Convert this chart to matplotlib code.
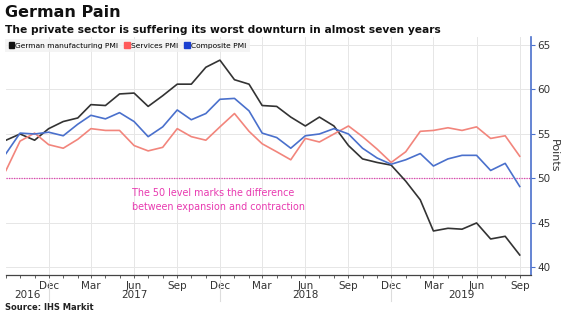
import pandas as pd
import matplotlib.pyplot as plt
import matplotlib.dates as mdates
from matplotlib.patches import Patch
import matplotlib.transforms as mtransforms

# German PMI readings, monthly Sep 2016 - Sep 2019
months = pd.date_range("2016-09-01", "2019-09-01", freq="MS")

manufacturing = [54.3, 55.0, 54.3, 55.6,
                 56.4, 56.8, 58.3, 58.2, 59.5, 59.6, 58.1, 59.3, 60.6, 60.6, 62.5, 63.3,
                 61.1, 60.6, 58.2, 58.1, 56.9, 55.9, 56.9, 55.9, 53.7, 52.2, 51.8, 51.5,
                 49.7, 47.6, 44.1, 44.4, 44.3, 45.0, 43.2, 43.5, 41.4]
services = [50.9, 54.2, 55.1, 53.8,
            53.4, 54.4, 55.6, 55.4, 55.4, 53.7, 53.1, 53.5, 55.6, 54.7, 54.3, 55.8,
            57.3, 55.3, 53.9, 53.0, 52.1, 54.5, 54.1, 55.0, 55.9, 54.7, 53.3, 51.8,
            53.0, 55.3, 55.4, 55.7, 55.4, 55.8, 54.5, 54.8, 52.5]
composite = [52.8, 55.1, 55.0, 55.2,
             54.8, 56.1, 57.1, 56.7, 57.4, 56.4, 54.7, 55.8, 57.7, 56.6, 57.3, 58.9,
             59.0, 57.6, 55.1, 54.6, 53.4, 54.8, 55.0, 55.6, 55.0, 53.4, 52.3, 51.6,
             52.1, 52.8, 51.4, 52.2, 52.6, 52.6, 50.9, 51.7, 49.1]

series_names = ["German manufacturing PMI", "Services PMI", "Composite PMI"]
series_colors = ["#333333", "#f2857c", "#4a70cc"]
tick_dates = pd.date_range("2016-12-01", "2019-09-01", freq="3MS")
years = ["2016", "2017", "2018", "2019"]
year_dividers = ["2016-12-01", "2017-12-01", "2018-12-01"]

fig = plt.figure(figsize=(5.65, 3.16), dpi=100)
ax = fig.add_axes([0.0106, 0.1297, 0.9292, 0.7532])

for vals, name, col in zip([manufacturing, services, composite], series_names, series_colors):
    ax.plot(months, vals, color=col, lw=1.2, label=name, zorder=3)

# 50 level line
ax.axhline(50, color="#e040b0", lw=0.9, ls=(0, (1, 1)), zorder=2)
ax.text(pd.Timestamp("2017-05-28"), 47.6, "The 50 level marks the difference\nbetween expansion and contraction",
        color="#e83ab0", fontsize=6.9, va="center", ha="left", linespacing=1.5)

ax.set_ylim(39.15, 65.9)
ax.set_xlim(pd.Timestamp("2016-09-01"), pd.Timestamp("2019-09-25"))

# right axis styling
ax.yaxis.tick_right()
ax.yaxis.set_label_position("right")
ax.set_yticks([40, 45, 50, 55, 60, 65])
ax.tick_params(axis="y", colors="#4a70cc", length=3, width=0.8, labelsize=7.5, labelcolor="#333333", pad=1.5)
ax.set_ylabel("Points", rotation=-90, labelpad=6, fontsize=8, color="#333333")
for s in ["top", "left"]:
    ax.spines[s].set_visible(False)
ax.spines["right"].set_color("#4a70cc")
ax.spines["right"].set_linewidth(1.2)
ax.spines["bottom"].set_color("#444444")
ax.spines["bottom"].set_linewidth(0.9)

ax.set_xticks(tick_dates)
ax.xaxis.set_minor_locator(mdates.MonthLocator())
ax.xaxis.set_major_formatter(mdates.DateFormatter("%b"))
ax.tick_params(axis="x", which="both", length=2, width=0.6, color="#444444", labelsize=7.5,
               labelcolor="#333333", pad=2)
ax.grid(True, color="#e6e6e6", lw=0.7, zorder=0)

# year labels and dividers under the axis
trans = mtransforms.blended_transform_factory(ax.transData, ax.transAxes)
x0 = mdates.date2num(pd.Timestamp("2016-09-01"))
x1 = mdates.date2num(pd.Timestamp("2019-09-25"))
bounds = [x0] + [mdates.date2num(pd.Timestamp(d)) for d in year_dividers] + [x1]
for i, yr in enumerate(years):
    ax.text((bounds[i] + bounds[i + 1]) / 2, -0.082, yr, transform=trans, ha="center", va="center",
            fontsize=7.5, color="#333333")
for d in year_dividers:
    ax.plot([pd.Timestamp(d)] * 2, [-0.02, -0.11], transform=trans, color="#dddddd", lw=0.8, clip_on=False)

handles = [Patch(color=c, label=n) for c, n in zip(["#111111", "#ff5a5a", "#1a3fd0"], series_names)]
leg = ax.legend(handles=handles, loc="upper left", bbox_to_anchor=(-0.005, 1.0), ncol=3, fontsize=5.4,
                handlelength=0.7, handleheight=0.7, handletextpad=0.2, columnspacing=0.8,
                frameon=True, fancybox=False, borderpad=0.5, borderaxespad=0.2)
leg.get_frame().set_facecolor("#f2f2f2")
leg.get_frame().set_edgecolor("none")

fig.text(0.008, 0.985, "German Pain", fontsize=11.5, fontweight="bold", va="top", ha="left", color="#111111")
fig.text(0.008, 0.92, "The private sector is suffering its worst downturn in almost seven years",
         fontsize=7.7, fontweight="bold", va="top", ha="left", color="#111111")
fig.text(0.008, 0.028, "Source: IHS Markit", fontsize=6, fontweight="bold", va="center", ha="left", color="#222222")

fig.savefig("out.png", dpi=100)
